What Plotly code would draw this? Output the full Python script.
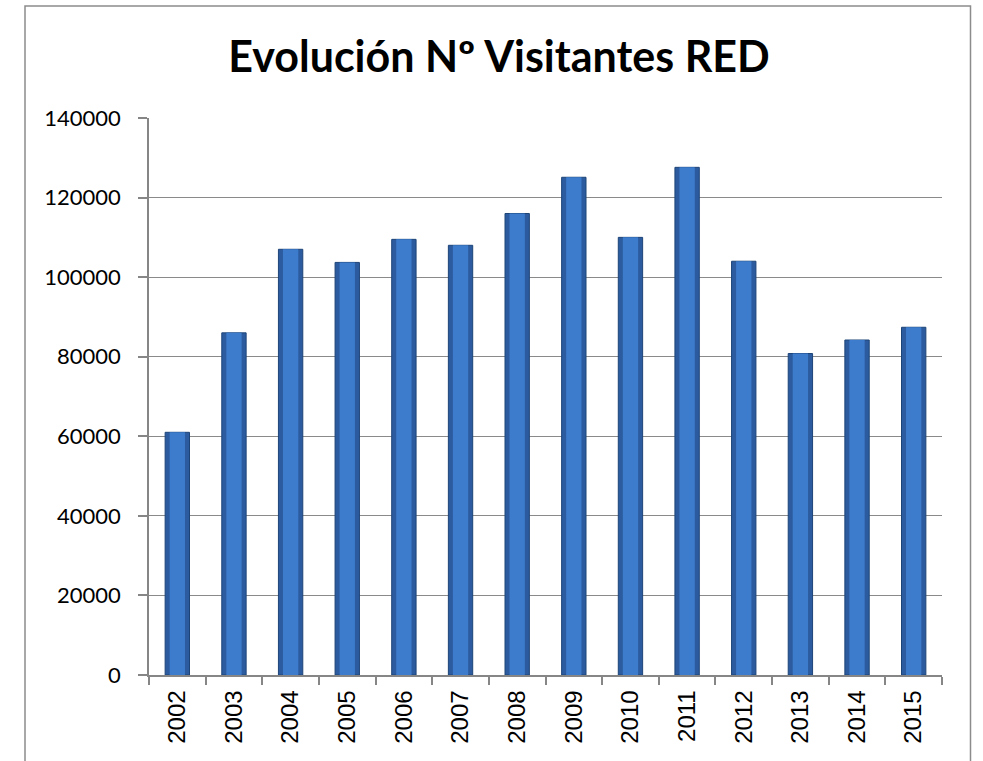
import plotly.graph_objects as go

years = ["2002", "2003", "2004", "2005", "2006", "2007", "2008",
         "2009", "2010", "2011", "2012", "2013", "2014", "2015"]
visitors = [61000, 86000, 107000, 103700, 109500, 108000, 116000,
            125100, 110000, 127600, 104000, 80800, 84200, 87400]
y_ticks = [0, 20000, 40000, 60000, 80000, 100000, 120000, 140000]
title_text = "Evolución Nº Visitantes RED"

W, H = 983, 761
L, R, T, B = 149, 41, 118, 86
pw, ph = W - L - R, H - T - B

fig = go.Figure()
# darker outer body of the bars
fig.add_trace(go.Bar(
    x=years, y=visitors, width=0.43,
    marker=dict(color="#2c5c9f", line=dict(color="#1d4478", width=1)),
    hoverinfo="x+y", showlegend=False,
))
# lighter centre highlight
fig.add_trace(go.Bar(
    x=years, y=visitors, width=0.27,
    marker=dict(color="#3d7ccd", line=dict(width=0)),
    hoverinfo="skip", showlegend=False,
))

def px_to_paper_x(px):
    return (px - L) / pw

def px_to_paper_y(py):
    return (H - B - py) / ph

fig.update_layout(
    width=W, height=H,
    margin=dict(l=L, r=R, t=T, b=B),
    paper_bgcolor="white", plot_bgcolor="white",
    barmode="overlay",
    title=dict(
        text=f"<b>{title_text}</b>",
        x=499 / W, xanchor="center",
        y=1 - 57 / H, yanchor="middle",
        font=dict(family="Lato, Open Sans, sans-serif", size=43, color="black"),
    ),
    xaxis=dict(
        type="category",
        showgrid=False,
        showline=True, linecolor="#868686", linewidth=1.5,
        ticks="outside", tickcolor="#868686", ticklen=8, tickwidth=1.5,
        tickson="boundaries",
        tickangle=-90,
        ticklabelstandoff=4,
        tickfont=dict(family="Liberation Sans, Arial, sans-serif", size=24, color="black"),
        fixedrange=True,
    ),
    yaxis=dict(
        range=[0, 140000],
        tickvals=y_ticks,
        ticktext=[str(v) for v in y_ticks],
        showgrid=True, gridcolor="#8a8a8a", gridwidth=1.4,
        showline=True, linecolor="#868686", linewidth=1.5,
        ticks="outside", tickcolor="#868686", ticklen=9, tickwidth=1.5,
        ticklabelstandoff=13,
        tickfont=dict(family="Lato, Open Sans, sans-serif", size=22, color="black"),
        zeroline=False,
        fixedrange=True,
    ),
    shapes=[dict(
        type="rect", xref="paper", yref="paper",
        x0=px_to_paper_x(25), x1=px_to_paper_x(970.5),
        y0=px_to_paper_y(775), y1=px_to_paper_y(6),
        line=dict(color="#8c8c8c", width=1.5), fillcolor="rgba(0,0,0,0)",
        layer="below",
    )],
)

fig.write_html(
    "out.html",
    config={"displayModeBar": False},
    post_script="document.body.style.margin='0px';document.body.style.overflow='hidden';",
)
